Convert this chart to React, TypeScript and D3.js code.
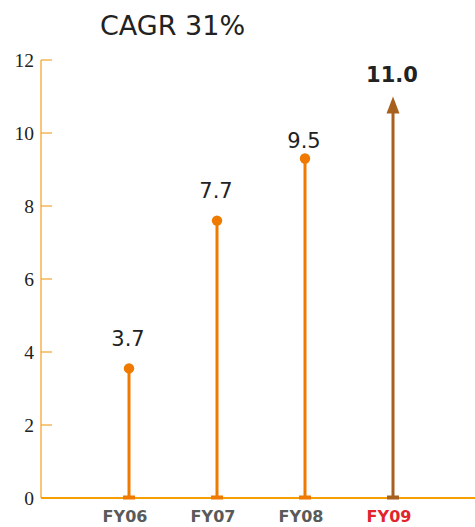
import React from "react";
import * as d3 from "d3";

const categories = ["FY06", "FY07", "FY08", "FY09"];
const values = [3.55, 7.6, 9.3, 11.0];
const valueLabels = ["3.7", "7.7", "9.5", "11.0"];
const yTicks = [0, 2, 4, 6, 8, 10, 12];
const title = "CAGR 31%";

const W = 475;
const H = 527;
const labelOffsets = [22, 23, 11, 15];

export default function App() {
  const y = d3.scaleLinear().domain([0, 12]).range([498, 60]);
  const x = d3.scalePoint<string>().domain(categories).range([129, 393]);
  const axisX = 41;
  const orange = "#f07a00";
  const brown = "#a8601e";
  const sans = "'DejaVu Sans', Verdana, sans-serif";
  const last = categories.length - 1;

  return (
    <svg
      width={W}
      height={H}
      style={{ position: "absolute", left: 0, top: 0, background: "#fff" }}
    >
      <text x={100} y={35} fontFamily={sans} fontSize={27} fill="#222">
        {title}
      </text>
      {/* y axis */}
      <line x1={axisX} x2={axisX} y1={y(12)} y2={y(0)} stroke="#f8c57a" strokeWidth={2} />
      {yTicks.map((t) => (
        <g key={t}>
          <line x1={axisX} x2={axisX + 11} y1={y(t)} y2={y(t)} stroke="#f2a32a" strokeWidth={1.2} />
          <text
            x={34}
            y={y(t)}
            dy="0.34em"
            textAnchor="end"
            fontFamily="'Liberation Serif', 'Times New Roman', serif"
            fontSize={19.5}
            fill="#222"
          >
            {t}
          </text>
        </g>
      ))}
      {/* baseline */}
      <line x1={axisX} x2={W} y1={y(0)} y2={y(0)} stroke="#f5a000" strokeWidth={2} />
      {categories.map((c, i) => {
        const cx = x(c)!;
        const isLast = i === last;
        const col = isLast ? brown : orange;
        const top = y(values[i]);
        return (
          <g key={c}>
            <rect x={cx - 6} y={y(0) - 2.5} width={12} height={4} fill={col} />
            {isLast ? (
              <>
                <line x1={cx} x2={cx} y1={y(0)} y2={top + 14} stroke={col} strokeWidth={3} />
                <path d={`M${cx},${top} L${cx + 6.5},${top + 17} L${cx - 6.5},${top + 17} Z`} fill={col} />
              </>
            ) : (
              <>
                <line x1={cx} x2={cx} y1={y(0)} y2={top} stroke={col} strokeWidth={3} />
                <circle cx={cx} cy={top} r={5.2} fill={col} />
              </>
            )}
            <text
              x={cx - 1}
              y={top - labelOffsets[i]}
              textAnchor="middle"
              fontFamily={sans}
              fontSize={21}
              fontWeight={isLast ? "bold" : "normal"}
              fill="#222"
            >
              {valueLabels[i]}
            </text>
            <text
              x={cx - 4}
              y={522}
              textAnchor="middle"
              fontFamily={sans}
              fontSize={16}
              fontWeight="bold"
              fill={isLast ? "#e0262c" : "#5a5a5a"}
            >
              {c}
            </text>
          </g>
        );
      })}
    </svg>
  );
}
